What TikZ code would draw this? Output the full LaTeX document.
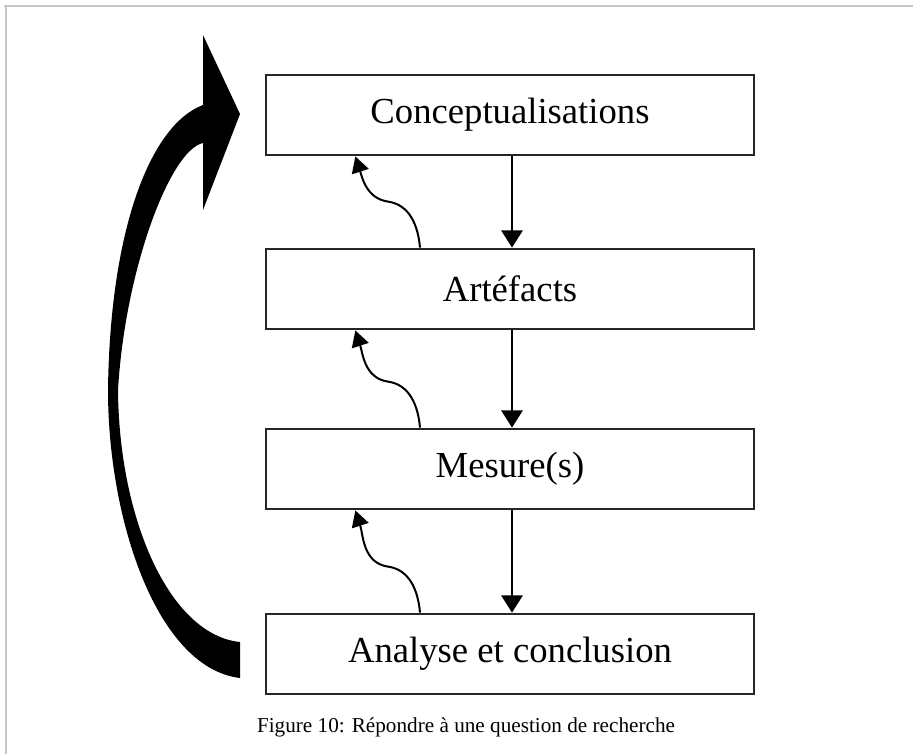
\documentclass[tikz,border=0pt]{standalone}
\usepackage{fontspec}
\setmainfont{Liberation Serif}
\usetikzlibrary{arrows.meta,calc}
\begin{document}
\begin{tikzpicture}[x=0.75pt,y=0.75pt,
  stage/.style={draw=black!85, line width=1.6pt, fill=white,
    minimum width=366pt, minimum height=60.5pt, inner sep=0pt,
    font=\fontsize{27.5}{30}\selectfont},
  down/.style={line width=1.8pt, -{Triangle[length=13pt,width=16pt]}},
  back/.style={line width=1.5pt, -{Triangle[length=12pt,width=13pt]}},
  frameline/.style={draw=black!22, line width=1.1pt}]
\useasboundingbox (0,0) rectangle (913,-754);

% page frame (top and left edges)
\draw[frameline] (4,-6) -- (913,-6);
\draw[frameline] (6,-6) -- (6,-754);

% the four stages
\node[stage] (concept) at (510,-115) {Conceptualisations};
\node[stage] (artef)   at (510,-289) {Artéfacts};
\node[stage] (mesure)  at (510,-469) {Mesure(s)};
\node[stage] (analyse) at (510,-654) {Analyse et conclusion};

% forward steps
\foreach \a/\b in {concept/artef, artef/mesure, mesure/analyse}
  \draw[down] ([xshift=1.5pt]\a.south) -- ([xshift=1.5pt]\b.north);

% feedback steps
\foreach \a/\b in {artef/concept, mesure/artef, analyse/mesure}{
  \coordinate (s) at ([xshift=-67.5pt]\a.north);
  \coordinate (m) at ($(s)+(-32,46)$);
  \coordinate (e) at ([xshift=-116pt]\b.south);
  \draw[back] (s) to[out=95,in=-8] (m) to[out=172,in=-72] (e);
}

% large return arrow: tapered shaft with a triangular head
\fill[black] (240,-678) -- (240,-642)
  .. controls (170,-635) and (119,-520) .. (118,-390)
  .. controls (125,-270) and (170,-150) .. (203,-143)
  -- (203,-210) -- (240,-114) -- (203,-35) -- (203,-105)
  .. controls (150,-125) and (110,-230) .. (108,-390)
  .. controls (108,-520) and (157,-668) .. (240,-678)
  -- cycle;

% caption
\node[font=\fontsize{15.9}{18}\selectfont] (caption) at (466,-727)
  {Figure 10: Répondre à une question de recherche};
\end{tikzpicture}
\end{document}
